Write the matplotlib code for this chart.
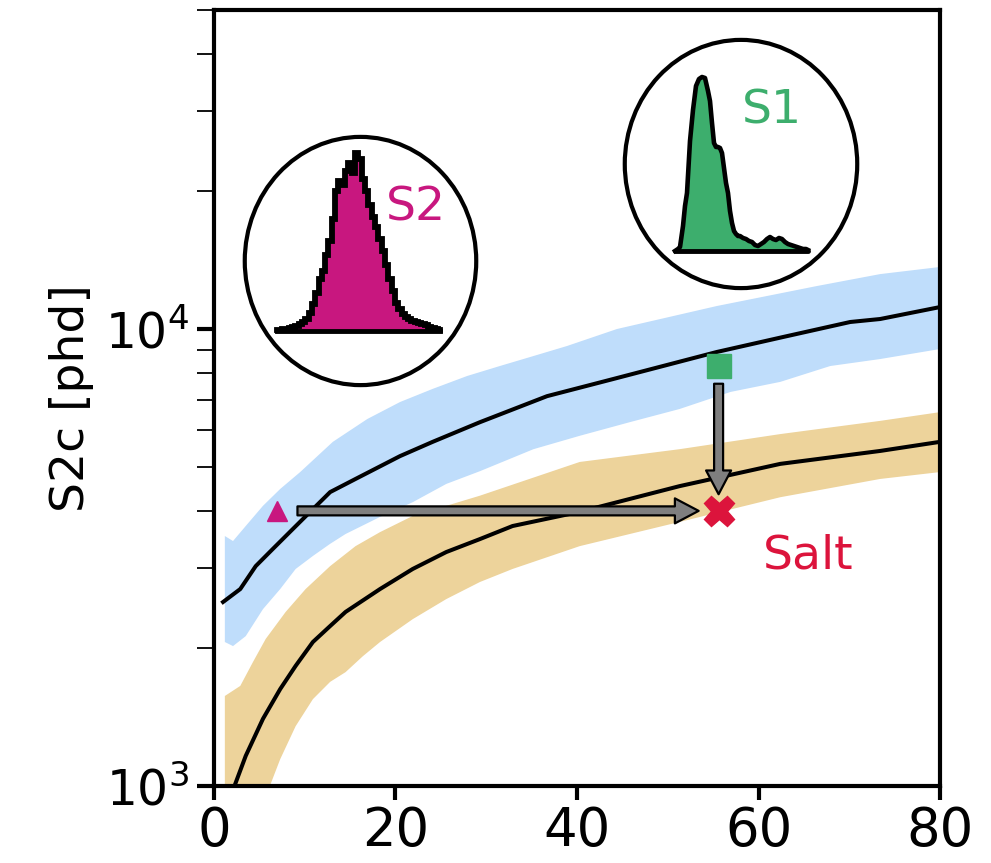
import numpy as np
import matplotlib
matplotlib.use("Agg")
import matplotlib.pyplot as plt
from matplotlib.patches import Ellipse, FancyArrowPatch
from matplotlib.ticker import LogLocator, NullFormatter, FixedLocator

plt.rcParams['font.family'] = ['DejaVu Sans']

# ---------------- data ----------------
# upper model (blue band) : central line and band edges
blue_x = [1.0, 2.9, 4.6, 6.5, 8.7, 10.6, 12.8, 15.6, 20.5, 24.1, 29.3, 36.7, 44.0, 55.4, 62.7, 70.1, 73.4, 80.0]
blue_y = [2527, 2698, 3028, 3304, 3652, 3981, 4397, 4698, 5271, 5664, 6253, 7130, 7774, 8907, 9605, 10360, 10517, 11170]
blue_hi_x = [1.2, 2.1, 3.5, 5.4, 7.3, 9.5, 13.1, 16.9, 20.5, 24.1, 27.9, 31.5, 35.2, 38.9, 44.4, 55.4, 66.4, 73.4, 80.0]
blue_hi = [3524, 3436, 3706, 4103, 4467, 4864, 5664, 6355, 6922, 7396, 7893, 8299, 8727, 9180, 10000, 11228, 12415, 13188, 13670]
blue_lo_x = [1.2, 2.1, 3.5, 5.4, 7.3, 9.0, 10.9, 12.8, 14.5, 18.3, 21.9, 25.6, 29.3, 35.2, 40.3, 45.8, 51.3, 56.9, 62.4, 67.9, 73.4, 80.0]
blue_lo = [2066, 2024, 2128, 2438, 2698, 2985, 3187, 3388, 3560, 3880, 4179, 4582, 4885, 5458, 5839, 6253, 6683, 7282, 7662, 8299, 8596, 9042]

# lower model (tan band)
tan_x = [1.0, 2.3, 3.5, 5.4, 7.3, 9.0, 10.9, 12.8, 14.5, 18.3, 21.9, 25.6, 29.3, 32.9, 40.3, 51.3, 62.4, 73.4, 80.0]
tan_y = [850, 1005, 1164, 1403, 1630, 1832, 2066, 2239, 2404, 2698, 2985, 3251, 3470, 3706, 3981, 4531, 5069, 5410, 5664]
tan_hi_x = [1.2, 2.9, 4.3, 5.7, 7.9, 10.1, 12.8, 15.6, 18.3, 21.9, 25.6, 29.3, 40.3, 51.3, 62.4, 73.4, 80.0]
tan_hi = [1574, 1656, 1868, 2098, 2404, 2698, 3028, 3349, 3594, 3899, 4103, 4318, 5118, 5458, 5890, 6295, 6579]
tan_lo_x = [1.2, 3.5, 6.2, 7.3, 9.0, 10.9, 12.8, 14.5, 16.4, 18.3, 21.9, 25.6, 29.3, 32.9, 40.3, 51.3, 62.4, 73.4, 80.0]
tan_lo = [560, 736, 1005, 1145, 1352, 1549, 1690, 1775, 1923, 2066, 2318, 2565, 2795, 2985, 3349, 3783, 4285, 4698, 4864]

# markers
s2_point = (7.0, 4000)
s1_point = (55.6, 8280)
salt_point = (55.6, 4000)
h_arrow = ((9.2, 4000), (53.4, 4000))
v_arrow = ((55.6, 7590), (55.6, 4350))

# inset histograms
s2_bins = list(range(50))
s2_counts = [1, 1, 2, 2, 3, 4, 5, 7, 9, 12, 18, 27, 38, 52, 60, 76, 90, 112, 140, 150,
             146, 160, 168, 158, 178, 172, 152, 140, 126, 114, 104, 92, 80, 66, 52, 40, 28, 22, 17, 14,
             12, 10, 9, 8, 7, 6, 4, 3, 2, 1]
s1_x = [0, 3, 5, 8, 10, 12, 15, 18, 21, 24, 27, 30, 33, 35, 37, 39, 41, 43, 45, 47, 49, 51, 53, 55,
        57, 59, 61, 63, 65, 68, 71, 74, 77, 80, 83, 86, 89, 92, 95, 98, 101, 104, 107, 110, 113,
        116, 119, 122, 125, 128, 131, 133]
s1_y = [0, 2, 4, 25, 45, 58, 110, 141, 165, 172, 174, 173, 160, 150, 128, 108, 104, 104, 103, 98,
        83, 68, 58, 40, 28, 20, 17, 15, 15, 13, 12, 10, 9, 6, 5, 7, 9, 12, 14, 12, 11, 13, 12, 9,
        7, 6, 5, 4, 3, 2, 2, 1]

xticks = [0, 20, 40, 60, 80]

BLUE = '#BFDDFB'
TAN = '#EDD39B'
MAG = '#C8177F'
GREEN = '#3DAE6D'
RED = '#DC143C'

# ---------------- figure ----------------
fig = plt.figure(figsize=(9.91, 8.63), dpi=100)
ax = fig.add_axes([0.2159, 0.0892, 0.7327, 0.8997])
ax.set_yscale('log')
ax.set_xlim(0, 80)
ax.set_ylim(1000, 50000)

ax.fill(np.concatenate([blue_hi_x, blue_lo_x[::-1]]), np.concatenate([blue_hi, blue_lo[::-1]]),
        color=BLUE, lw=0, zorder=1)
ax.fill(np.concatenate([tan_hi_x, tan_lo_x[::-1]]), np.concatenate([tan_hi, tan_lo[::-1]]),
        color=TAN, lw=0, zorder=1)
ax.plot(blue_x, blue_y, color='black', lw=2.9, zorder=2, solid_joinstyle='round')
ax.plot(tan_x, tan_y, color='black', lw=2.9, zorder=2, solid_joinstyle='round')

for (p0, p1) in (h_arrow, v_arrow):
    arr = FancyArrowPatch(p0, p1, arrowstyle='simple,tail_width=0.36,head_width=1.0,head_length=0.95',
                          mutation_scale=18, fc='#7F7F7F', ec='black', lw=1.6,
                          shrinkA=0, shrinkB=0, zorder=3)
    ax.add_patch(arr)

ax.plot(*s2_point, marker='^', ms=15, color=MAG, mec=MAG, ls='none', zorder=4)
ax.plot(*s1_point, marker='s', ms=17, color=GREEN, mec=GREEN, ls='none', zorder=4)
ax.plot(*salt_point, marker='X', ms=22, color=RED, mec=RED, ls='none', zorder=4)
ax.text(65.5, 3186, 'Salt', color=RED, fontsize=34, ha='center', va='center')

# axes styling
for sp in ax.spines.values():
    sp.set_linewidth(3)
ax.set_xticks(xticks)
ax.set_xticklabels([str(t) for t in xticks])
ax.yaxis.set_major_locator(FixedLocator([1e3, 1e4]))
ax.yaxis.set_minor_locator(LogLocator(base=10, subs=np.arange(2, 10)))
ax.yaxis.set_minor_formatter(NullFormatter())
ax.tick_params(axis='x', which='major', direction='out', length=10, width=3, labelsize=38, pad=4)
ax.tick_params(axis='y', which='major', direction='out', length=12, width=3, labelsize=35, pad=6)
ax.tick_params(axis='y', which='minor', direction='out', length=12, width=1.3)
ax.set_ylabel('S2c [phd]', fontsize=34)
ax.yaxis.set_label_coords(-0.165, 0.5)

# ---------------- insets ----------------
W, H = 991.0, 863.0
def inset(x0, x1, y0, y1):
    a = fig.add_axes([x0 / W, 1 - y1 / H, (x1 - x0) / W, (y1 - y0) / H])
    a.set_axis_off()
    e = Ellipse((0.5, 0.5), 0.985, 0.985, transform=a.transAxes, fill=False,
                ec='black', lw=3, clip_on=False)
    a.add_patch(e)
    return a

a2 = inset(243, 478, 135, 387)
a2.set_xlim(-10.24, 60.54)
a2.set_ylim(-56, 196)
a2.fill_between(s2_bins, s2_counts, 0, step='mid', color=MAG, lw=0)
a2.step(s2_bins, s2_counts, where='mid', color='black', lw=4.2, solid_joinstyle='miter')
a2.plot([s2_bins[0], s2_bins[-1]], [0, 0], color='black', lw=3.5)
a2.text(41.9, 123, 'S2', color=MAG, fontsize=34, ha='center', va='center')

a1 = inset(623, 859, 38, 290)
a1.set_xlim(-52, 184)
a1.set_ylim(-39, 213)
a1.fill_between(s1_x, s1_y, 0, color=GREEN, lw=0)
a1.plot(s1_x, s1_y, color='black', lw=3.3, solid_joinstyle='round')
a1.plot([s1_x[0], s1_x[-1]], [0, 0], color='black', lw=3.5, solid_capstyle='round')
a1.text(97, 140, 'S1', color=GREEN, fontsize=34, ha='center', va='center')

fig.savefig('out.png', dpi=100)
